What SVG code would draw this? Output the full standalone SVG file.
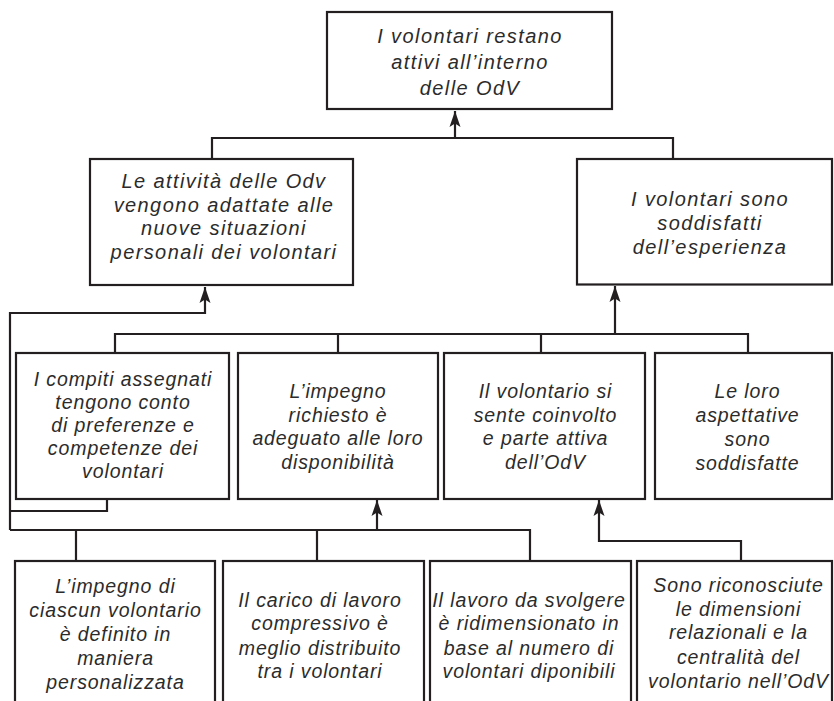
<svg xmlns="http://www.w3.org/2000/svg" width="834" height="701" viewBox="0 0 834 701">
<style>
.box{fill:#fff;stroke:#231f20;stroke-width:2.2}
.ln{fill:none;stroke:#231f20;stroke-width:2.2}
text{font-family:"Liberation Sans",Arial,sans-serif;font-style:italic;font-size:20px;fill:#2b2b2b;text-anchor:middle;letter-spacing:1.4px}
.s{font-size:19.5px;letter-spacing:0.9px}
</style>
<defs>
<marker id="ah" markerWidth="14" markerHeight="18" refX="7" refY="1" orient="0" markerUnits="userSpaceOnUse">
<path d="M7,1 L12.5,17 L7,13.5 L1.5,17 Z" fill="#231f20"/>
</marker>
</defs>
<rect width="834" height="701" fill="#fff"/>
<g id="connectors">
<path class="ln" d="M212,159 V138 H673 V159"/>
<path class="ln" d="M455,138 V111" marker-end="url(#ah)"/>
<path class="ln" d="M115,353 V334 H748 V353 M338,334 V353 M541,334 V353"/>
<path class="ln" d="M615,334 V286" marker-end="url(#ah)"/>
<path class="ln" d="M107,499 V511 H10 M10,530 V313 H205 V287" marker-end="url(#ah)"/>
<path class="ln" d="M76,561 V530 H530 V561 M10,530 H76 M317,530 V561"/>
<path class="ln" d="M377,530 V500" marker-end="url(#ah)"/>
<path class="ln" d="M741,561 V541 H599 V500" marker-end="url(#ah)"/>
</g>
<g id="n-top">
<rect class="box" x="327" y="12" width="285" height="97"/>
<text x="470" y="43">I volontari restano</text>
<text x="470" y="69">attivi all’interno</text>
<text x="470" y="95">delle OdV</text>
</g>
<g id="n-left">
<rect class="box" x="90" y="159" width="263" height="126"/>
<text x="224" y="188">Le attività delle Odv</text>
<text x="224" y="212">vengono adattate alle</text>
<text x="224" y="235">nuove situazioni</text>
<text x="224" y="259">personali dei volontari</text>
</g>
<g id="n-right">
<rect class="box" x="577" y="159" width="255" height="125.5"/>
<text x="710" y="206">I volontari sono</text>
<text x="710" y="229.5">soddisfatti</text>
<text x="710" y="253.5">dell’esperienza</text>
</g>
<g id="m1">
<rect class="box" x="16" y="353" width="213" height="146"/>
<text class="s" x="123" y="385.5">I compiti assegnati</text>
<text class="s" x="123" y="408.5">tengono conto</text>
<text class="s" x="123" y="431.5">di preferenze e</text>
<text class="s" x="123" y="454.5">competenze dei</text>
<text class="s" x="123" y="477.5">volontari</text>
</g>
<g id="m2">
<rect class="box" x="238" y="353" width="200" height="146"/>
<text class="s" x="338" y="398">L’impegno</text>
<text class="s" x="338" y="421.5">richiesto è</text>
<text class="s" x="338" y="445">adeguato alle loro</text>
<text class="s" x="338" y="469">disponibilità</text>
</g>
<g id="m3">
<rect class="box" x="444" y="353" width="201" height="146"/>
<text class="s" x="545.5" y="398">Il volontario si</text>
<text class="s" x="545.5" y="421.5">sente coinvolto</text>
<text class="s" x="545.5" y="445">e parte attiva</text>
<text class="s" x="545.5" y="469">dell’OdV</text>
</g>
<g id="m4">
<rect class="box" x="655" y="353" width="177" height="146"/>
<text class="s" x="747.5" y="398">Le loro</text>
<text class="s" x="747.5" y="421.5">aspettative</text>
<text class="s" x="747.5" y="446">sono</text>
<text class="s" x="747.5" y="469.5">soddisfatte</text>
</g>
<g id="b1">
<rect class="box" x="15" y="561" width="200" height="150"/>
<text class="s" x="115.5" y="593">L’impegno di</text>
<text class="s" x="115.5" y="617">ciascun volontario</text>
<text class="s" x="115.5" y="641">è definito in</text>
<text class="s" x="115.5" y="665">maniera</text>
<text class="s" x="115.5" y="689">personalizzata</text>
</g>
<g id="b2">
<rect class="box" x="223" y="561" width="201" height="150"/>
<text class="s" x="320" y="606.5">Il carico di lavoro</text>
<text class="s" x="320" y="630">compressivo è</text>
<text class="s" x="320" y="654.5">meglio distribuito</text>
<text class="s" x="320" y="678">tra i volontari</text>
</g>
<g id="b3">
<rect class="box" x="430" y="561" width="201" height="150"/>
<text class="s" x="529" y="606.5">Il lavoro da svolgere</text>
<text class="s" x="529" y="630">è ridimensionato in</text>
<text class="s" x="529" y="654.5">base al numero di</text>
<text class="s" x="529" y="678">volontari diponibili</text>
</g>
<g id="b4">
<rect class="box" x="637" y="561" width="195" height="150"/>
<text class="s" x="738.5" y="592">Sono riconosciute</text>
<text class="s" x="738.5" y="615.5">le dimensioni</text>
<text class="s" x="738.5" y="639">relazionali e la</text>
<text class="s" x="738.5" y="664">centralità del</text>
<text class="s" x="738.5" y="688">volontario nell’OdV</text>
</g>
</svg>
